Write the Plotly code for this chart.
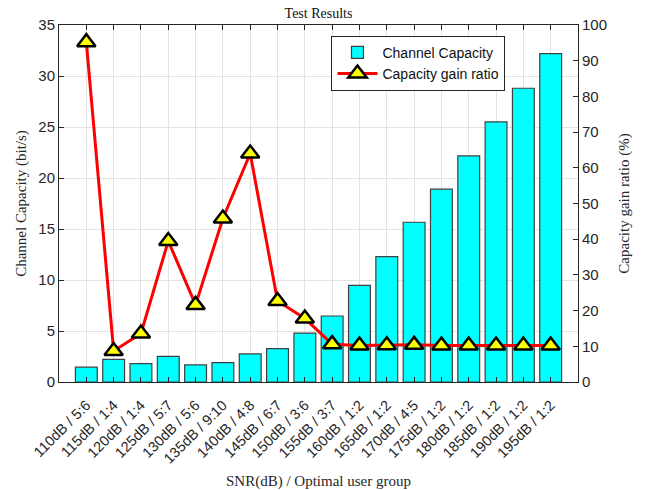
import plotly.graph_objects as go

# SNR / optimal user group labels
categories = [
    "110dB / 5:6", "115dB / 1:4", "120dB / 1:4", "125dB / 5:7", "130dB / 5:6",
    "135dB / 9:10", "140dB / 4:8", "145dB / 6:7", "150dB / 3:6", "155dB / 3:7",
    "160dB / 1:2", "165dB / 1:2", "170dB / 4:5", "175dB / 1:2", "180dB / 1:2",
    "185dB / 1:2", "190dB / 1:2", "195dB / 1:2",
]

# Channel capacity (bit/s)
capacity = [1.45, 2.22, 1.8, 2.52, 1.67, 1.9, 2.75, 3.27, 4.8, 6.47,
            9.48, 12.3, 15.66, 18.9, 22.16, 25.5, 28.8, 32.2]

# Capacity gain ratio (%)
gain_ratio = [95.2, 8.7, 13.6, 39.5, 21.6, 45.8, 64.0, 22.7, 17.8, 10.6,
              10.2, 10.3, 10.4, 10.2, 10.2, 10.2, 10.2, 10.2]

left_ticks = [0, 5, 10, 15, 20, 25, 30, 35]
right_ticks = [0, 10, 20, 30, 40, 50, 60, 70, 80, 90, 100]

axis_col = "#262626"
grid_col = "#e3e3e3"
serif = "Liberation Serif, Times New Roman, serif"
sans = "Liberation Sans, Arial, sans-serif"

fig = go.Figure()

fig.add_trace(go.Bar(
    x=categories, y=capacity, name="Channel Capacity",
    width=0.8,
    marker=dict(color="#00ffff", line=dict(color="#404040", width=1.2)),
    yaxis="y",
))

fig.add_trace(go.Scatter(
    x=categories, y=gain_ratio, name="Capacity gain ratio",
    mode="lines+markers",
    line=dict(color="#ff0000", width=3),
    marker=dict(symbol="triangle-up", size=16, color="#ffff00",
                line=dict(color="#000000", width=2.5)),
    yaxis="y2",
))

fig.update_layout(
    width=648, height=490,
    margin=dict(l=59, r=70, t=25, b=108),
    paper_bgcolor="white", plot_bgcolor="white",
    showlegend=True,
    title=dict(text="Test Results", x=0.5, xref="paper", y=0.984, yanchor="top",
               font=dict(family=serif, size=14, color="#111111")),
    legend=dict(x=0.525, y=0.97, xanchor="left", yanchor="top",
                bgcolor="white", bordercolor=axis_col, borderwidth=1,
                font=dict(family=sans, size=14, color="#111111"),
                tracegroupgap=0, itemwidth=40),
    xaxis=dict(
        type="category", range=[-1, 18], automargin=False,
        showgrid=True, gridcolor=grid_col, gridwidth=1,
        showline=True, linecolor=axis_col, linewidth=1, mirror="ticks",
        ticks="inside", ticklen=5, tickcolor=axis_col, ticklabelstandoff=8,
        tickangle=-45, tickfont=dict(family=sans, size=14.5, color="#262626"),
        title=dict(text="SNR(dB) / Optimal user group",
                   font=dict(family=serif, size=15, color="#262626"), standoff=11),
        zeroline=False,
    ),
    yaxis=dict(
        range=[0, 35], tickvals=left_ticks, automargin=False,
        showgrid=True, gridcolor=grid_col, gridwidth=1,
        showline=True, linecolor=axis_col, linewidth=1,
        ticks="inside", ticklen=5, tickcolor=axis_col,
        tickfont=dict(family=sans, size=15, color="#262626"),
        title=dict(text="Channel Capacity (bit/s)",
                   font=dict(family=serif, size=15, color="#262626"), standoff=8),
        zeroline=False,
    ),
    yaxis2=dict(
        range=[0, 100], tickvals=right_ticks, overlaying="y", side="right",
        automargin=False, showgrid=False,
        showline=True, linecolor=axis_col, linewidth=1,
        ticks="inside", ticklen=5, tickcolor=axis_col,
        tickfont=dict(family=sans, size=15, color="#262626"),
        title=dict(text="Capacity gain ratio (%)",
                   font=dict(family=serif, size=15, color="#262626"), standoff=12),
        zeroline=False,
    ),
    bargap=0.2,
)

fig.write_html("out.html")
